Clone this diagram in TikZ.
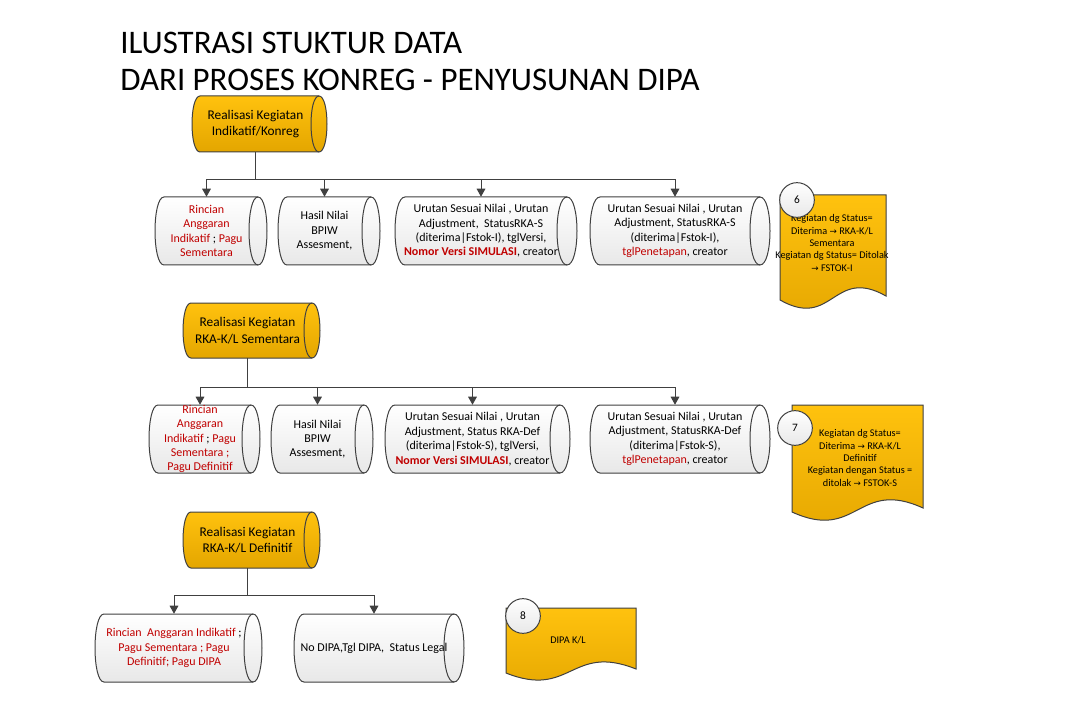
\documentclass[tikz,border=0pt]{standalone}
\usepackage{fontspec}
\setmainfont{Carlito}
\newfontfamily\symf[Scale=0.85]{DejaVu Sans}
\usetikzlibrary{arrows.meta}
\definecolor{linec}{RGB}{64,64,64}
\definecolor{kred}{RGB}{192,0,0}
\definecolor{ytop}{RGB}{255,194,14}
\definecolor{ybot}{RGB}{228,166,0}
\definecolor{wbot}{RGB}{232,232,232}
\pgfdeclarelayer{bg}
\pgfsetlayers{bg,main}
\newcommand\rd[1]{\textcolor{kred}{#1}}
\newcommand\ra{{\symf\char"2192}}
\tikzset{
 outl/.style={draw=linec, line width=0.75pt},
 yfill/.style={outl, top color=ytop, bottom color=ybot},
 wfill/.style={outl, top color=white, bottom color=wbot},
 ytext/.style={inner sep=0pt, align=center, font=\fontsize{10}{12.5}\selectfont},
 btext/.style={inner sep=0pt, align=center, font=\fontsize{9}{10.8}\selectfont},
 dtext/.style={inner sep=0pt, align=center, font=\fontsize{7.7}{9.2}\selectfont},
 numc/.style={circle, outl, top color=white, bottom color=wbot, minimum size=26pt, inner sep=0pt, font=\fontsize{8.5}{10}\selectfont},
 arr/.style={draw=linec, line width=0.75pt, -{Triangle[width=6.5pt,length=6pt]}},
 conn/.style={draw=linec, line width=0.75pt},
 ttl/.style={anchor=base west, inner sep=0pt, font=\fontsize{24.7}{29}\selectfont},
}
% x0,y0,x1,y1,e,style
\newcommand\cylshape[6]{%
 \begin{pgfonlayer}{bg}
 \draw[#6] (#1+#5,#2) -- (#3-#5,#2) .. controls (#3+0.333*#5,#2) and (#3+0.333*#5,#4) .. (#3-#5,#4) -- (#1+#5,#4) .. controls (#1-0.333*#5,#4) and (#1-0.333*#5,#2) .. cycle;
 \draw[outl] (#3-#5,#2) .. controls (#3-2.333*#5,#2) and (#3-2.333*#5,#4) .. (#3-#5,#4);
 \end{pgfonlayer}}
% name,x0,y0,x1,y1,e,shapestyle,textstyle,text
\newcommand\cylnode[9]{%
 \cylshape{#2}{#3}{#4}{#5}{#6}{#7}
 \node[#8, minimum width={(#4-#6-#2)*0.75pt}, minimum height={(#5-#3)*0.75pt}] (#1) at ({(#2+#4-#6)/2},{(#3+#5)/2}) {#9};}
% x0,y0,x1,yb,c
\newcommand\docshape[5]{%
 \begin{pgfonlayer}{bg}
 \draw[yfill] (#1,#2) -- (#3,#2) -- (#3,#4-2) .. controls ({(#1+#3)/2},#4-2-#5) and ({(#1+#3)/2},#4+2+#5) .. (#1,#4+2) -- cycle;
 \end{pgfonlayer}}
\begin{document}
\begin{tikzpicture}[x=0.75pt,y=-0.75pt]
\begin{pgfonlayer}{bg}
\fill[white] (0,0) rectangle (1074,720);
\end{pgfonlayer}
\useasboundingbox (0,0) rectangle (1074,720);
% title
\node[ttl] (t1) at (120,54) {ILUSTRASI STUKTUR DATA};
\node[ttl] (t2) at (120,91) {DARI PROSES KONREG - PENYUSUNAN DIPA};
% ---------- row 1
\cylnode{y1}{192}{96}{327}{152}{8}{yfill}{ytext}{Realisasi Kegiatan\\Indikatif/Konreg}
\cylnode{b11}{155}{197}{267}{265}{9}{wfill}{btext}{\rd{Rincian}\\\rd{Anggaran}\\\rd{Indikatif} ; \rd{Pagu}\\\rd{Sementara}}
\cylnode{b12}{278}{197}{380}{265}{9}{wfill}{btext}{Hasil Nilai\\BPIW\\Assesment,}
\cylnode{b13}{395}{197}{577}{265}{10}{wfill}{btext}{Urutan Sesuai Nilai , Urutan\\Adjustment,\ \ StatusRKA-S\\(diterima|Fstok-I), tglVersi,\\\textcolor{kred}{\textbf{Nomor Versi SIMULASI}}, creator}
\cylnode{b14}{590}{197}{770}{265}{10}{wfill}{btext}{Urutan Sesuai Nilai , Urutan\\Adjustment, StatusRKA-S\\(diterima|Fstok-I),\\\rd{tglPenetapan}, creator}
\path (y1.south) ++(0,27) coordinate (bus1);
\draw[conn] (y1.south) -- (bus1);
\foreach \n in {b11,b12,b13,b14} \draw[arr] (bus1) -| (\n.north);
\docshape{780}{195}{886}{298}{30}
\node[dtext] (d6) at (832,243) {Kegiatan dg Status=\\Diterima \ra{} RKA-K/L\\Sementara\\Kegiatan dg Status= Ditolak\\\ra{} FSTOK-I};
\node[numc] (c6) at (797,200) {6};
% ---------- row 2
\cylnode{y2}{183}{303}{320}{358}{8}{yfill}{ytext}{Realisasi Kegiatan\\RKA-K/L Sementara}
\cylnode{b21}{149}{405}{260}{473}{9}{wfill}{btext}{\rd{Rincian}\\\rd{Anggaran}\\\rd{Indikatif} ; \rd{Pagu}\\\rd{Sementara ;}\\\rd{Pagu Definitif}}
\cylnode{b22}{271}{405}{373}{473}{9}{wfill}{btext}{Hasil Nilai\\BPIW\\Assesment,}
\cylnode{b23}{385}{405}{570}{473}{10}{wfill}{btext}{Urutan Sesuai Nilai , Urutan\\Adjustment, Status RKA-Def\\(diterima|Fstok-S), tglVersi,\\\textcolor{kred}{\textbf{Nomor Versi SIMULASI}}, creator}
\cylnode{b24}{590}{405}{770}{473}{10}{wfill}{btext}{Urutan Sesuai Nilai , Urutan\\Adjustment, StatusRKA-Def\\(diterima|Fstok-S),\\\rd{tglPenetapan}, creator}
\path (y2.south) ++(0,29) coordinate (bus2);
\draw[conn] (y2.south) -- (bus2);
\foreach \n in {b21,b22,b23,b24} \draw[arr] (bus2) -| (\n.north);
\docshape{792}{405}{923}{510}{30}
\node[dtext] (d7) at (860,458) {Kegiatan dg Status=\\Diterima \ra{} RKA-K/L\\Definitif\\Kegiatan dengan Status =\\ditolak \ra{} FSTOK-S};
\node[numc] (c7) at (795,428) {7};
% ---------- row 3
\cylnode{y3}{183}{512}{320}{568}{8}{yfill}{ytext}{Realisasi Kegiatan\\RKA-K/L Definitif}
\cylnode{b31}{95}{614}{262}{682}{9}{wfill}{btext}{\rd{Rincian\ \ Anggaran Indikatif} ;\\\rd{Pagu Sementara ; Pagu}\\\rd{Definitif; Pagu DIPA}}
\cylnode{b32}{294}{614}{464}{682}{10}{wfill}{btext}{No DIPA,Tgl DIPA,\ \ Status Legal}
\path (y3.south) ++(0,27) coordinate (bus3);
\draw[conn] (y3.south) -- (bus3);
\foreach \n in {b31,b32} \draw[arr] (bus3) -| (\n.north);
\docshape{506}{608}{636}{671}{26}
\node[dtext] (d8) at (568,640) {DIPA K/L};
\node[numc] (c8) at (523,616) {8};
\end{tikzpicture}
\end{document}
